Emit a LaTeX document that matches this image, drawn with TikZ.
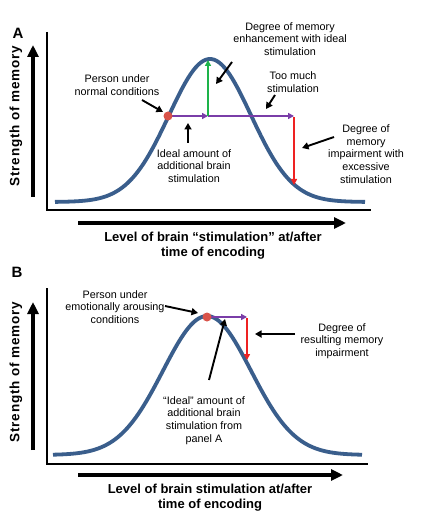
\documentclass[tikz,border=0pt]{standalone}
\usepackage{fontspec}
\setmainfont{Liberation Sans}
\newfontfamily\axisfont[LetterSpace=6]{Liberation Sans}
\usetikzlibrary{arrows.meta}
\definecolor{curveblue}{HTML}{3A5E8C}
\definecolor{dotred}{HTML}{D9534A}
\definecolor{stimpurple}{HTML}{7A3DA8}
\definecolor{enhgreen}{HTML}{1DB34A}
\definecolor{impred}{HTML}{EE2222}

\begin{document}
\begin{tikzpicture}[x=1pt,y=-1pt,>={Triangle[length=6pt,width=6pt]}]
\tikzset{
  curve/.style={line width=3.8pt,curveblue},
  frame/.style={line width=2.6pt},
  axisarrow/.style={line width=3.6pt,-{Triangle[length=12pt,width=11pt]}},
  pointer/.style={line width=1.9pt,-{Triangle[length=6.5pt,width=7pt]}},
  colarrow/.style={line width=2.6pt,->},
  remark/.style={font=\fontsize{10.8}{12.6}\selectfont,align=center,inner sep=0pt},
  axistext/.style={font=\fontsize{13}{15}\selectfont\bfseries,align=center,inner sep=0pt},
  paneltag/.style={font=\fontsize{15}{15}\selectfont\bfseries,inner sep=0pt}
}
\useasboundingbox[fill=white] (0,0) rectangle (423,521);

% Panel A
\node[paneltag] (tagA) at (18,33) {A};
\draw[frame] (47,32) -- (47,210) -- (371,210);
\draw[axisarrow] (33,197) -- (33,45);
\draw[axisarrow] (78,223) -- (346,223);
\node[axistext,rotate=90] (ylabA) at (16,116) {\axisfont\fontsize{13.5}{15}\selectfont Strength of memory};
\node[axistext] (xlabA) at (213,245.5) {Level of brain “stimulation” at/after\\time of encoding};
\draw[curve] plot[domain=55:365,samples=120] (\x,{202-143*exp(-0.5*((\x-210)/41)^2)});
\coordinate (normA) at (168,116);
\coordinate (idealA) at (208,116);
\coordinate (peakA) at (208,60);
\coordinate (muchA) at (294,116);
\coordinate (lowA) at (294,185);
\draw[colarrow,stimpurple] (normA) -- (idealA);
\draw[colarrow,stimpurple] (idealA) -- (muchA);
\draw[colarrow,enhgreen] (idealA) -- (peakA);
\draw[line width=2.6pt,impred,->] ([yshift=-1.3pt]muchA) -- (lowA);
\fill[dotred] (normA) circle (4.5);
\node[remark] (enhA) at (290,39) {Degree of memory\\enhancement with ideal\\stimulation};
\node[remark] (tooA) at (293,82) {Too much\\stimulation};
\node[remark] (persA) at (117,85) {Person under\\normal conditions};
\node[remark] (amtA) at (194,166) {Ideal amount of\\additional brain\\stimulation};
\node[remark] (impA) at (366,154) {Degree of\\memory\\impairment with\\excessive\\stimulation};
\coordinate (a1s) at (232,62); \coordinate (a1e) at (216,84);
\coordinate (a2s) at (275,95); \coordinate (a2e) at (266,109);
\coordinate (a3s) at (142,100); \coordinate (a3e) at (163,112);
\coordinate (a4s) at (188,143); \coordinate (a4e) at (188,123);
\coordinate (a5s) at (334,137); \coordinate (a5e) at (302,148);
\foreach \s/\e in {a1s/a1e,a2s/a2e,a3s/a3e,a4s/a4e,a5s/a5e}
  \draw[pointer] (\s) -- (\e);

% Panel B
\node[paneltag] (tagB) at (17,272) {B};
\draw[frame] (47,288) -- (47,464) -- (368,464);
\draw[axisarrow] (33,450) -- (33,302);
\draw[axisarrow] (78,475) -- (343,475);
\node[axistext,rotate=90] (ylabB) at (16,372) {\axisfont\fontsize{13.5}{15}\selectfont Strength of memory};
\node[axistext] (xlabB) at (210,497.5) {Level of brain stimulation at/after\\time of encoding};
\draw[curve] plot[domain=53:362,samples=120] (\x,{455-139*exp(-0.5*((\x-207)/44)^2)});
\coordinate (emoB) at (207,317);
\coordinate (muchB) at (247,317);
\coordinate (lowB) at (247,360);
\draw[colarrow,stimpurple] (emoB) -- (muchB);
\draw[line width=2.6pt,impred,->] ([yshift=-1.3pt]muchB) -- (lowB);
\fill[dotred] (emoB) circle (4.5);
\node[remark] (persB) at (115,307) {Person under\\emotionally arousing\\conditions};
\node[remark] (impB) at (342,341) {Degree of\\resulting memory\\impairment};
\node[remark] (amtB) at (204,420.5) {“Ideal” amount of\\additional brain\\stimulation from\\panel A};
\coordinate (b1s) at (165,306); \coordinate (b1e) at (198,313);
\coordinate (b2s) at (295,334); \coordinate (b2e) at (255,334);
\coordinate (b3s) at (209,380); \coordinate (b3e) at (225,319);
\foreach \s/\e in {b1s/b1e,b2s/b2e,b3s/b3e}
  \draw[pointer] (\s) -- (\e);
\end{tikzpicture}
\end{document}
